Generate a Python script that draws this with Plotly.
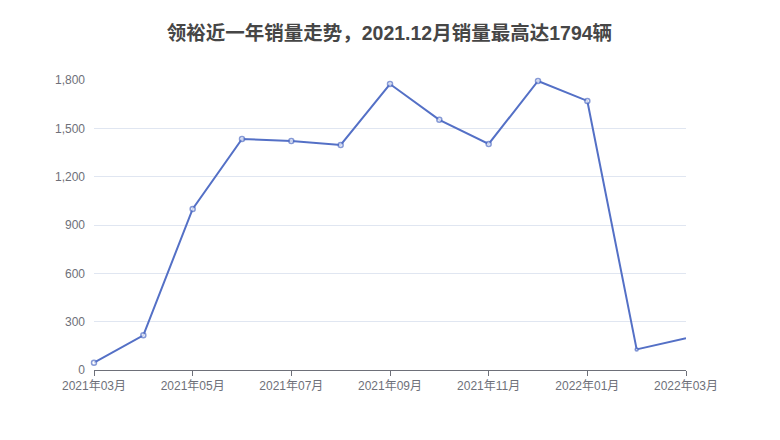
import plotly.graph_objects as go

# monthly sales, 2021-03 .. 2022-03
months = ["2021年03月", "2021年04月", "2021年05月", "2021年06月", "2021年07月",
          "2021年08月", "2021年09月", "2021年10月", "2021年11月", "2021年12月",
          "2022年01月", "2022年02月", "2022年03月"]
sales = [45, 215, 1000, 1434, 1421, 1397, 1775, 1553, 1403, 1794, 1670, 128, 197]
tick_labels = months[::2]
y_ticks = [0, 300, 600, 900, 1200, 1500, 1800]

title = "领裕近一年销量走势，2021.12月销量最高达1794辆"

font_fam = "Liberation Sans, Noto Sans CJK SC, sans-serif"

fig = go.Figure()
fig.add_trace(go.Scatter(
    x=months, y=sales, mode="lines+markers", cliponaxis=False,
    line=dict(color="#5470c6", width=2),
    marker=dict(symbol="circle", size=[5] * 11 + [3, 0], color="white",
                line=dict(color="#5470c6", width=1.5)),
))

# page has an 8px body offset, so margins are shifted by that
fig.update_layout(
    width=780, height=440,
    margin=dict(l=86, r=102, t=72, b=78),
    paper_bgcolor="white", plot_bgcolor="white",
    showlegend=False,
    font=dict(family=font_fam, color="#6e7079", size=12),
    title=dict(text="<b>" + title + "</b>", x=0.489, xanchor="center",
               y=0.943, yanchor="middle",
               font=dict(size=19.5, color="#464646", family=font_fam)),
)
fig.update_xaxes(
    type="category", range=[0, len(months) - 1],
    tickvals=tick_labels, ticktext=tick_labels,
    showgrid=False, showline=True, linecolor="#6e7079", linewidth=1,
    ticks="outside", ticklen=5, tickcolor="#6e7079",
)
fig.update_yaxes(
    range=[0, 1800], tickvals=y_ticks, tickformat=",",
    showgrid=True, gridcolor="#e0e6f1", gridwidth=1,
    zeroline=False, showline=False, ticks="", ticklabelstandoff=8,
)

fig.write_html("out.html")
